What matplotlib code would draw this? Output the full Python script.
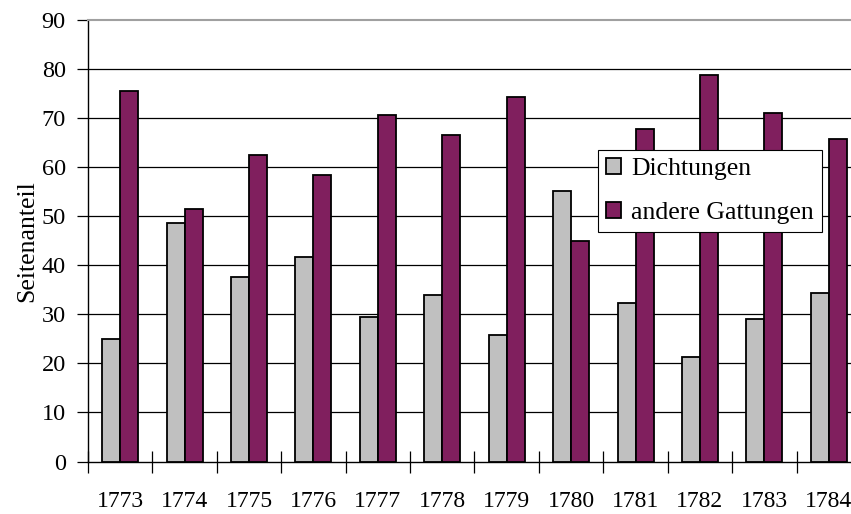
import matplotlib
matplotlib.use("Agg")
import matplotlib.pyplot as plt
import numpy as np

years = ["1773", "1774", "1775", "1776", "1777", "1778", "1779", "1780", "1781", "1782", "1783", "1784"]
dichtungen = [24.9, 48.6, 37.6, 41.7, 29.5, 33.9, 25.8, 55.1, 32.3, 21.3, 29.0, 34.4]
andere = [75.6, 51.4, 62.5, 58.4, 70.7, 66.6, 74.4, 45.0, 67.8, 78.8, 71.1, 65.8]
yticks = [0, 10, 20, 30, 40, 50, 60, 70, 80, 90]

plt.rcParams['font.family'] = ['Liberation Serif', 'DejaVu Serif']

W, H = 851, 514
fig = plt.figure(figsize=(W / 100, H / 100), dpi=100)
left, right, top, bottom = 88, 861, 20, 461.5
ax = fig.add_axes([left / W, 1 - bottom / H, (right - left) / W, (bottom - top) / H])

x = np.arange(len(years))
bw = 0.28
ax.bar(x - bw / 2, dichtungen, bw, color="#c0c0c0", edgecolor="black", linewidth=1.3, label="Dichtungen", zorder=3)
ax.bar(x + bw / 2, andere, bw, color="#801f5e", edgecolor="black", linewidth=1.3, label="andere Gattungen", zorder=3)

ax.set_xlim(-0.5, len(years) - 0.5)
ax.set_ylim(0, 90)
ax.set_yticks(yticks)
ax.set_yticklabels([str(v) for v in yticks], fontsize=17.5)
for v in yticks[1:-1]:
    ax.axhline(v, color="black", linewidth=0.9, zorder=1)

# category ticks between groups, labels at centers
ax.set_xticks(np.arange(len(years) + 1) - 0.5)
ax.set_xticklabels([])
ax.set_xticks(x, minor=True)
ax.set_xticklabels(years, minor=True, fontsize=17)
ax.tick_params(axis="x", which="major", direction="inout", length=16, width=0.9)
ax.tick_params(axis="x", which="minor", length=0, pad=21)
ax.tick_params(axis="y", direction="out", length=8, width=0.9, pad=8)

ax.spines["top"].set_color("#a0a0a0")
ax.spines["top"].set_linewidth(1.5)
ax.spines["right"].set_visible(False)
ax.spines["left"].set_linewidth(1.0)
ax.spines["bottom"].set_linewidth(1.0)

ax.set_ylabel("Seitenanteil", fontsize=18.5, labelpad=2)

leg = ax.legend(loc="upper left", bbox_to_anchor=((598 - left) / (right - left), 1 - (150 - top) / (bottom - top)),
                fontsize=18.5, frameon=True, fancybox=False, edgecolor="black", framealpha=1,
                handlelength=0.6, handleheight=0.6, handletextpad=0.4, borderpad=0.3, labelspacing=0.85,
                borderaxespad=0)
leg.get_frame().set_linewidth(0.8)

fig.savefig("out.png", dpi=100)
